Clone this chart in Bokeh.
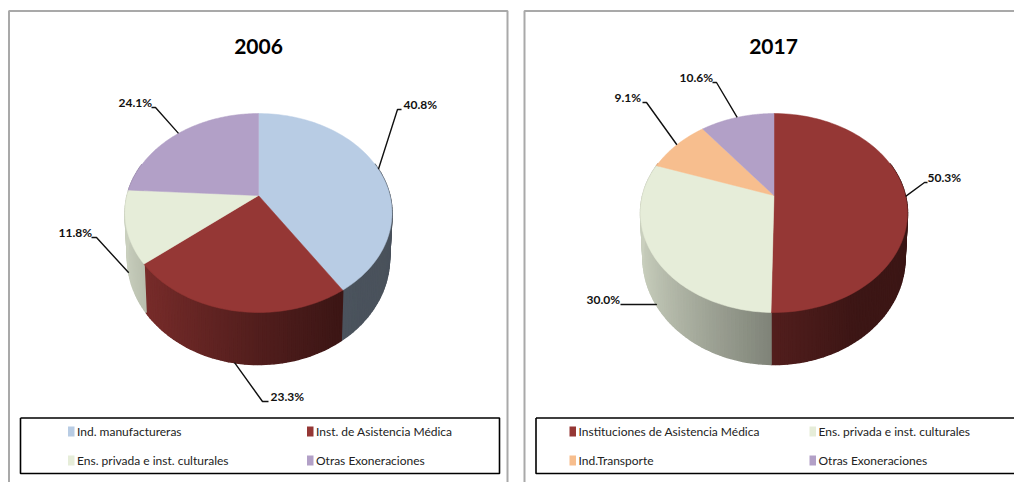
import numpy as np
from bokeh.embed import file_html
from bokeh.resources import INLINE
from bokeh.plotting import figure
from bokeh.layouts import row
from bokeh.models import Range1d
from bokeh.core.properties import value

# ---- data ----
title_a = "2006"
cats_a = ["Ind. manufactureras", "Inst. de Asistencia Médica", "Ens. privada e inst. culturales", "Otras Exoneraciones"]
vals_a = [40.8, 23.3, 11.8, 24.1]
title_b = "2017"
cats_b = ["Instituciones de Asistencia Médica", "Ens. privada e inst. culturales", "Ind.Transporte", "Otras Exoneraciones"]
vals_b = [50.3, 30.0, 9.1, 10.6]

# ---- style ----
BLUE, RED, LIGHT, PURPLE, ORANGE = "#B8CCE4", "#953735", "#E6EDD9", "#B2A0C7", "#F7BE8E"
cols_a = [BLUE, RED, LIGHT, PURPLE]
cols_b = [RED, LIGHT, ORANGE, PURPLE]
FONT = value("Lato")

# ---- layout (page pixels) ----
CY, K, C, A = 195.0, 131.4, -0.176, 96.4      # top face projection
CY2, K2, A2 = 238.5, 129.0, 103.4             # bottom rim projection
# label text left edge, label centre y, elbow x, flat line end x
lab_a = [(403, 104, 397, 401), (270, 396, 262, 268), (58, 232, 96, 91), (118, 102, 155, 151)]
lab_b = [(927, 177, 924, 927), (586, 299, 656, 620), (614, 97, 646, 642), (679, 77, 716, 712)]
LEG_Y = [431, 460]


def top(cx, th):
    u, v = np.sin(th), -np.cos(th)
    d = 1 + C * v
    return cx + K * u / d, CY + A * v / d


def low(cx, th):
    u, v = np.sin(th), -np.cos(th)
    d = 1 + C * v
    return cx + K2 * u / d, CY2 + A2 * v / d


def shade(u):
    return np.interp(u, [-1, 0, 0.5, 1], [0.88, 0.55, 0.41, 0.40])


def scale(col, f):
    r, g, b = (int(col[i:i + 2], 16) for i in (1, 3, 5))
    return "#%02x%02x%02x" % (int(r * f), int(g * f), int(b * f))


def draw(p, title, cats, vals, cols, labs, cx, title_x, panel, box, leg_x):
    x0, x1 = panel
    p.line([x0, x0, x1, x1], [490, 10.5, 10.5, 490], line_color="#a9a9a9", line_width=2)
    edges = np.radians(np.concatenate([[0], np.cumsum(vals)]) * 3.6)

    # side wall
    xs, ys, cs = [], [], []
    for i, col in enumerate(cols):
        n = max(2, int(np.degrees(edges[i + 1] - edges[i]) / 1.5))
        t = np.linspace(edges[i], edges[i + 1], n + 1)
        for a, b in zip(t[:-1], t[1:]):
            if -np.cos((a + b) / 2) < -0.35:
                continue
            ax, ay = top(cx, a); bx, by = top(cx, b)
            dx, dy = low(cx, b); ex, ey = low(cx, a)
            xs.append([ax, bx, dx, ex]); ys.append([ay, by, dy, ey])
            cs.append(scale(col, shade(np.sin((a + b) / 2))))
    p.patches(xs, ys, fill_color=cs, line_color=cs, line_width=1.5)

    # top face
    xs, ys = [], []
    for i in range(len(vals)):
        t = np.linspace(edges[i], edges[i + 1], 90)
        rx, ry = top(cx, t)
        xs.append([cx] + list(rx)); ys.append([CY] + list(ry))
    p.patches(xs, ys, fill_color=cols, line_color=cols, line_width=0.5)

    # leaders and value labels
    for i, (lx, ly, ex, fx) in enumerate(labs):
        mid = (edges[i] + edges[i + 1]) / 2
        ax, ay = low(cx, mid) if -np.cos(mid) > 0.2 else top(cx, mid)
        ey = ly + 5
        p.line([ax, ex, fx], [ay, ey, ey], line_color="#111111", line_width=1.4)
        p.text([lx], [ly], text=["%.1f%%" % vals[i]], text_font=FONT, text_font_style="bold",
               text_font_size="12px", text_color="#111111", text_baseline="middle", text_align="left")

    # title
    p.text([title_x], [46], text=[title], text_font=FONT, text_font_style="bold", text_font_size="21px",
           text_color="#000000", text_align="center", text_baseline="middle")

    # legend
    p.line([box[0], box[0], box[1], box[1], box[0]], [417.5, 473, 473, 417.5, 417.5], line_color="#000000", line_width=1.6)
    for i, (c, col) in enumerate(zip(cats, cols)):
        mx, my = leg_x[i % 2], LEG_Y[i // 2]
        p.quad(left=[mx], right=[mx + 6.5], top=[my - 5], bottom=[my + 5], fill_color=col, line_color=None)
        p.text([mx + 9], [my], text=[c], text_font=FONT, text_font_size="12px", text_color="#222222",
               text_align="left", text_baseline="middle")


def make(x0, x1):
    p = figure(width=x1 - x0, height=482, x_range=Range1d(x0, x1), y_range=Range1d(482, 0),
               output_backend="svg", toolbar_location=None, min_border=0, outline_line_color=None)
    p.xaxis.visible = False
    p.yaxis.visible = False
    p.xgrid.visible = False
    p.ygrid.visible = False
    return p


p1 = make(0, 515)
p2 = make(515, 1014)
draw(p1, title_a, cats_a, vals_a, cols_a, lab_a, 258.0, 258, (8.5, 507), (20, 499), (67.5, 306.5))
draw(p2, title_b, cats_b, vals_b, cols_b, lab_b, 773.5, 773, (524, 1040), (535.5, 1040), (569, 809))

layout = row(p1, p2, spacing=0)
open("out.html", "w").write(file_html(layout, INLINE))
